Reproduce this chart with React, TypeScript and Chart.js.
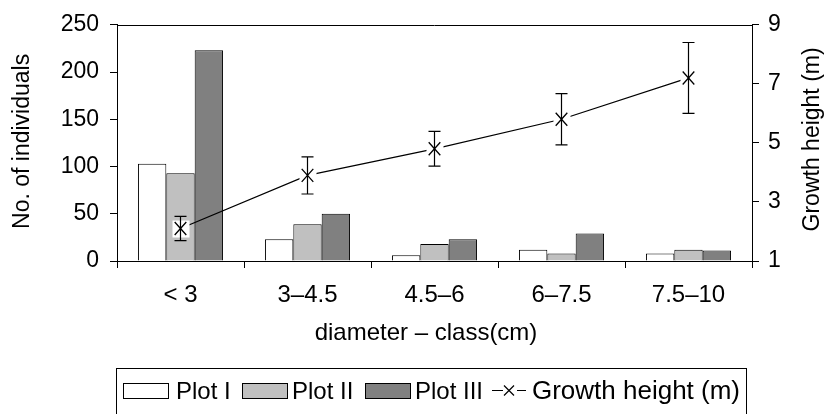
import React, { useEffect, useRef } from "react";
import { Chart, registerables } from "chart.js";

Chart.register(...registerables);

const categories = ["< 3", "3–4.5", "4.5–6", "6–7.5", "7.5–10"];
const plotI = [103, 23, 6, 12, 8];
const plotII = [93, 39, 18, 8, 12];
const plotIII = [223, 50, 23, 29, 11];
const growthHeight = [2.1, 3.9, 4.8, 5.8, 7.2];
const growthError = [0.41, 0.63, 0.59, 0.87, 1.2];
const leftTicks = [0, 50, 100, 150, 200, 250];
const rightTicks = [1, 3, 5, 7, 9];
const seriesNames = ["Plot I", "Plot II", "Plot III", "Growth height (m)"];
const barColors = ["#ffffff", "#c0c0c0", "#808080"];
const xTitle = "diameter – class(cm)";
const yTitle = "No. of individuals";
const y1Title = "Growth height (m)";

const FONT = "'Liberation Sans', Arial, Helvetica, sans-serif";

function drawMarker(ctx: CanvasRenderingContext2D, x: number, y: number, sx: number, sy: number) {
  ctx.beginPath();
  ctx.moveTo(x - sx, y - sy);
  ctx.lineTo(x + sx, y + sy);
  ctx.moveTo(x - sx, y + sy);
  ctx.lineTo(x + sx, y - sy);
  ctx.stroke();
}

const overlayPlugin = {
  id: "overlay",
  afterDatasetsDraw(chart: any) {
    const ctx: CanvasRenderingContext2D = chart.ctx;
    const meta = chart.getDatasetMeta(3);
    const y1 = chart.scales.y1;
    ctx.save();
    ctx.strokeStyle = "#000";
    meta.data.forEach((pt: any, i: number) => {
      const x = pt.x;
      const y = pt.y;
      ctx.fillStyle = "#fff";
      ctx.fillRect(x - 8, y - 8, 17, 17);
      ctx.lineWidth = 1.3;
      drawMarker(ctx, x, y, 5.8, 6.5);
      const top = y1.getPixelForValue(growthHeight[i] + growthError[i]);
      const bot = y1.getPixelForValue(growthHeight[i] - growthError[i]);
      ctx.lineWidth = 1.2;
      ctx.beginPath();
      ctx.moveTo(x, top);
      ctx.lineTo(x, bot);
      ctx.moveTo(x - 6, top);
      ctx.lineTo(x + 6, top);
      ctx.moveTo(x - 6, bot);
      ctx.lineTo(x + 6, bot);
      ctx.stroke();
    });
    ctx.restore();
  },
  afterDraw(chart: any) {
    const ctx: CanvasRenderingContext2D = chart.ctx;
    const a = chart.chartArea;
    ctx.save();
    // top border of plot area
    ctx.strokeStyle = "#000";
    ctx.lineWidth = 1;
    ctx.beginPath();
    ctx.moveTo(a.left, Math.round(a.top) + 0.5);
    ctx.lineTo(a.right, Math.round(a.top) + 0.5);
    ctx.stroke();

    ctx.fillStyle = "#000";
    // left title
    ctx.save();
    ctx.translate(22.5, (a.top + a.bottom) / 2 - 1.5);
    ctx.rotate(-Math.PI / 2);
    ctx.font = `23px ${FONT}`;
    ctx.textAlign = "center";
    ctx.textBaseline = "middle";
    ctx.fillText(yTitle, 0, 0);
    ctx.restore();
    // right title
    ctx.save();
    ctx.translate(812.5, (a.top + a.bottom) / 2 - 3.5);
    ctx.rotate(-Math.PI / 2);
    ctx.font = `23px ${FONT}`;
    ctx.textAlign = "center";
    ctx.textBaseline = "middle";
    ctx.fillText(y1Title, 0, 0);
    ctx.restore();
    // x title
    ctx.font = `24px ${FONT}`;
    ctx.textAlign = "center";
    ctx.textBaseline = "alphabetic";
    ctx.fillText(xTitle, 426, 340);

    // legend
    ctx.lineWidth = 1;
    ctx.strokeRect(116.5, 368.5, 630, 60);
    const swX = [123, 242, 365];
    const txX = [176, 292, 415];
    const txtBase = 399;
    ctx.font = `24px ${FONT}`;
    ctx.textAlign = "left";
    for (let k = 0; k < 3; k++) {
      ctx.fillStyle = barColors[k];
      ctx.fillRect(swX[k] + 0.5, 383.5, 45, 15);
      ctx.strokeStyle = "#000";
      ctx.strokeRect(swX[k] + 0.5, 383.5, 45, 15);
      ctx.fillStyle = "#000";
      ctx.fillText(seriesNames[k], txX[k], txtBase);
    }
    // growth legend item
    ctx.strokeStyle = "#000";
    ctx.lineWidth = 1.2;
    ctx.beginPath();
    ctx.moveTo(492, 390.5);
    ctx.lineTo(503, 390.5);
    ctx.moveTo(517, 390.5);
    ctx.lineTo(526, 390.5);
    ctx.stroke();
    drawMarker(ctx, 509, 390.5, 5, 5);
    ctx.fillStyle = "#000";
    ctx.save();
    ctx.font = `25px ${FONT}`;
    const w = ctx.measureText(seriesNames[3]).width;
    ctx.translate(532, txtBase);
    ctx.scale(208 / w, 1);
    ctx.fillText(seriesNames[3], 0, 0);
    ctx.restore();

    ctx.restore();
  },
};

export default function App() {
  const ref = useRef<HTMLCanvasElement | null>(null);
  useEffect(() => {
    if (!ref.current) return;
    const tickFont = { family: FONT, size: 23 };
    const chart = new Chart(ref.current, {
      type: "bar",
      data: {
        labels: categories,
        datasets: [
          {
            type: "bar",
            label: seriesNames[0],
            data: plotI,
            backgroundColor: barColors[0],
            borderColor: "#000",
            borderWidth: 1,
            yAxisID: "y",
            order: 1,
          },
          {
            type: "bar",
            label: seriesNames[1],
            data: plotII,
            backgroundColor: barColors[1],
            borderColor: "#000",
            borderWidth: 1,
            yAxisID: "y",
            order: 1,
          },
          {
            type: "bar",
            label: seriesNames[2],
            data: plotIII,
            backgroundColor: barColors[2],
            borderColor: "#000",
            borderWidth: 1,
            yAxisID: "y",
            order: 1,
          },
          {
            type: "line",
            label: seriesNames[3],
            data: growthHeight,
            borderColor: "#000",
            borderWidth: 1.2,
            pointRadius: 0,
            tension: 0,
            fill: false,
            yAxisID: "y1",
            order: 0,
          } as any,
        ],
      },
      options: {
        animation: false,
        responsive: false,
        events: [],
        layout: { padding: { top: 24, left: 0, right: 0, bottom: 0 } },
        datasets: {
          bar: { categoryPercentage: 0.67, barPercentage: 1 },
        },
        plugins: {
          legend: { display: false },
          tooltip: { enabled: false },
        },
        scales: {
          x: {
            type: "category",
            offset: true,
            grid: {
              offset: true,
              drawOnChartArea: false,
              drawTicks: true,
              tickLength: 7,
              color: "#000",
              lineWidth: 1,
            },
            border: { display: true, color: "#000", width: 1 },
            ticks: { color: "#000", font: { family: FONT, size: 24 }, padding: 13, maxRotation: 0 },
            afterFit: (s: any) => {
              s.height = 153;
            },
          },
          y: {
            type: "linear",
            position: "left",
            min: 0,
            max: 250,
            grid: {
              drawOnChartArea: false,
              drawTicks: true,
              tickLength: 7,
              color: "#000",
              lineWidth: 1,
            },
            border: { display: true, color: "#000", width: 1 },
            ticks: { color: "#000", font: tickFont, padding: 11 },
            afterBuildTicks: (s: any) => {
              s.ticks = leftTicks.map((v) => ({ value: v }));
            },
            afterFit: (s: any) => {
              s.width = 117;
            },
          },
          y1: {
            type: "linear",
            position: "right",
            min: 1,
            max: 9,
            grid: {
              drawOnChartArea: false,
              drawTicks: true,
              tickLength: 7,
              color: "#000",
              lineWidth: 1,
            },
            border: { display: true, color: "#000", width: 1 },
            ticks: { color: "#000", font: tickFont, padding: 9 },
            afterBuildTicks: (s: any) => {
              s.ticks = rightTicks.map((v) => ({ value: v }));
            },
            afterFit: (s: any) => {
              s.width = 85;
            },
          },
        },
      },
      plugins: [overlayPlugin],
    });
    return () => chart.destroy();
  }, []);
  return (
    <div style={{ position: "fixed", left: 0, top: 0, width: 837, height: 414, background: "#fff" }}>
      <canvas ref={ref} width={837} height={414} style={{ display: "block" }} />
    </div>
  );
}
